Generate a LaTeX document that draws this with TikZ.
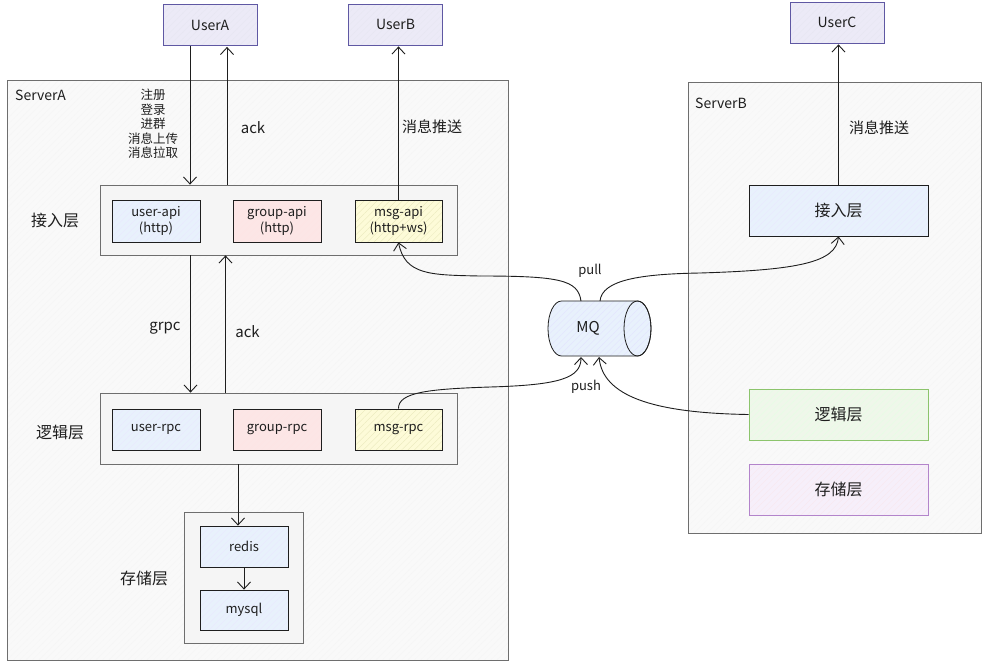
\documentclass[tikz,border=0pt]{standalone}
\usepackage{fontspec}
\setmainfont{Noto Sans CJK SC}
\usetikzlibrary{arrows.meta,patterns.meta}
\definecolor{ink}{HTML}{1E1E1E}
\definecolor{bordergray}{HTML}{6E6E6E}
\definecolor{userborder}{HTML}{5F58A3}
\definecolor{userfill}{HTML}{ECEAF7}
\definecolor{bluefill}{HTML}{E8F1FC}
\definecolor{pinkfill}{HTML}{FCE6E6}
\definecolor{yellowfill}{HTML}{FDFBD8}
\definecolor{greenborder}{HTML}{8CC46C}
\definecolor{greenfill}{HTML}{EFF7EA}
\definecolor{purpleborder}{HTML}{B384CB}
\definecolor{purplefill}{HTML}{F6EFFA}
\definecolor{serverfill}{HTML}{F9F9F9}
\definecolor{layerfill}{HTML}{F5F5F5}
\tikzset{
  shade/.style args={#1/#2/#3}{fill=#1,
    postaction={pattern={Lines[angle=45,distance=4.5pt,line width=0.35pt]},pattern color=#2},
    postaction={draw=#3}},
  box/.style={rectangle,line width=0.8pt,inner sep=0pt,text=ink},
  userbox/.style={box,shade=userfill/userborder!15/userborder,minimum width=94pt,minimum height=41pt,font=\fontsize{14}{16}\selectfont},
  server/.style={box,shade=serverfill/black!4/bordergray},
  layer/.style={box,shade=layerfill/black!4/bordergray},
  svc/.style={box,minimum width=88pt,minimum height=42pt,align=center,font=\fontsize{13}{16}\selectfont},
  bsvc/.style={shade=bluefill/blue!9/ink},
  psvc/.style={shade=pinkfill/red!10/ink},
  ysvc/.style={shade=yellowfill/olive!18/ink},
  blayer/.style={box,minimum width=179pt,minimum height=51pt,font=\fontsize{16}{18}\selectfont},
  arr/.style={draw=ink,line width=0.9pt,-{Straight Barb[length=7pt,width=13pt,line width=0.9pt]}},
  lbl/.style={text=ink,inner sep=0pt,font=\fontsize{15}{17}\selectfont},
  slbl/.style={text=ink,inner sep=0pt,font=\fontsize{13}{15}\selectfont},
}
\begin{document}
\begin{tikzpicture}[x=1pt,y=-1pt]
\useasboundingbox (0,0) rectangle (988,667);
\fill[white] (0,0) rectangle (988,667);

% servers
\node[server,minimum width=501pt,minimum height=580pt] (serverA) at (257.5,370) {};
\node[server,minimum width=293pt,minimum height=451pt] (serverB) at (834.5,307.5) {};
\node[slbl,anchor=west,font=\fontsize{14}{16}\selectfont] (serverAlbl) at (15,95) {ServerA};
\node[slbl,anchor=west,font=\fontsize{14}{16}\selectfont] (serverBlbl) at (695,103) {ServerB};

% users
\node[userbox] (userA) at (210,25) {UserA};
\node[userbox] (userB) at (395.5,24.5) {UserB};
\node[userbox] (userC) at (837,22.5) {UserC};

% access layer A
\node[layer,minimum width=357pt,minimum height=70pt] (accA) at (278.5,220) {};
\node[svc,bsvc] (userapi) at (156,221) {user-api\\(http)};
\node[svc,psvc] (groupapi) at (277,221) {group-api\\(http)};
\node[svc,ysvc,minimum width=87pt] (msgapi) at (398.5,221) {msg-api\\(http+ws)};
\node[lbl,font=\fontsize{16}{18}\selectfont] (accAlbl) at (55,220) {接入层};

% logic layer A
\node[layer,minimum width=357pt,minimum height=71pt] (logA) at (278.5,428.5) {};
\node[svc,bsvc,minimum height=41pt] (userrpc) at (156,429.5) {user-rpc};
\node[svc,psvc,minimum height=41pt] (grouprpc) at (277,429.5) {group-rpc};
\node[svc,ysvc,minimum width=87pt,minimum height=41pt] (msgrpc) at (398.5,429.5) {msg-rpc};
\node[lbl,font=\fontsize{16}{18}\selectfont] (logAlbl) at (60,432) {逻辑层};

% storage layer A
\node[layer,minimum width=119pt,minimum height=131pt] (storA) at (243.5,577.5) {};
\node[svc,bsvc,minimum height=41pt] (redis) at (244,546.5) {redis};
\node[svc,bsvc,minimum height=40pt] (mysql) at (244,610) {mysql};
\node[lbl,font=\fontsize{16}{18}\selectfont] (storAlbl) at (144,578) {存储层};

% Server B layers
\node[blayer,shade=bluefill/blue!9/ink] (accB) at (838.5,210.5) {接入层};
\node[blayer,shade=greenfill/green!10/greenborder] (logB) at (838.5,414.5) {逻辑层};
\node[blayer,shade=purplefill/purple!9/purpleborder] (storB) at (838.5,489.5) {存储层};

% MQ (horizontal cylinder)
\node[rectangle,minimum width=103pt,minimum height=55pt,inner sep=0pt] (mq) at (599.5,328.5) {};
\begin{scope}[shift={(mq.center)}]
  \path[line width=0.8pt,shade=bluefill/blue!11/ink]
    (-38,-27.5) -- (38,-27.5)
    .. controls (45.46,-27.5) and (51.5,-15.19) .. (51.5,0)
    .. controls (51.5,15.19) and (45.46,27.5) .. (38,27.5)
    -- (-38,27.5)
    .. controls (-45.46,27.5) and (-51.5,15.19) .. (-51.5,0)
    .. controls (-51.5,-15.19) and (-45.46,-27.5) .. (-38,-27.5) -- cycle;
  \draw[ink,line width=0.8pt] (38,0) ellipse [x radius=13.5, y radius=27.5];
\end{scope}
\node[text=ink,inner sep=0pt,font=\fontsize{15}{17}\selectfont] (mqlbl) at (588,328.5) {MQ};
\coordinate (mqtopL) at (581,301);
\coordinate (mqtopR) at (600,301);
\coordinate (mqbotL) at (581,357);
\coordinate (mqbotR) at (599,357);

% arrows user A
\draw[arr] ([xshift=-20pt]userA.south) -- ([xshift=-20pt]userA.south |- accA.north);
\draw[arr,shorten >=1pt] ([xshift=17pt]userA.south |- accA.north) -- ([xshift=17pt]userA.south);
\node[slbl,align=center,font=\fontsize{12.5}{14.5}\selectfont] (reqlbl) at (153,124) {注册\\登录\\进群\\消息上传\\消息拉取};
\node[lbl] (ack1) at (253,128) {ack};

% push to user B
\draw[arr,shorten >=1pt] (msgapi.north) -- (msgapi.north |- userB.south);
\node[lbl] (push1) at (432,127) {消息推送};

% access <-> logic
\draw[arr] ([xshift=-88pt]accA.south) -- ([xshift=-88pt]accA.south |- logA.north);
\draw[arr] ([xshift=-53pt]accA.south |- logA.north) -- ([xshift=-53pt]accA.south);
\node[lbl] (grpclbl) at (165,328) {grpc};
\node[lbl] (ack2) at (247.5,332) {ack};

% logic -> storage
\draw[arr] ([xshift=-6pt]redis.north |- logA.south) -- ([xshift=-6pt]redis.north);
\draw[arr] (redis.south) -- (mysql.north);

% server B push
\draw[arr,shorten >=1pt] (accB.north) -- (accB.north |- userC.south);
\node[lbl] (push2) at (879,128) {消息推送};

% pull curves
\draw[arr,-] (mqtopL) .. controls (578,280) and (560,276) .. (480,276);
\draw[arr] (480,276) .. controls (430,275) and (405,275) .. (msgapi.south);
\draw[arr,-] (mqtopR) .. controls (602,280) and (640,274) .. (700,273);
\draw[arr] (700,273) .. controls (800,270) and (836,262) .. (accB.south);
\node[slbl] (pulllbl) at (590,271) {pull};

% push curves
\draw[arr,-] (msgrpc.north) .. controls (398,392) and (430,389) .. (490,387);
\draw[arr] (490,387) .. controls (560,385) and (581,378) .. (mqbotL);
\draw[arr] (logB.west) .. controls (650,413) and (603,395) .. (mqbotR);
\node[slbl] (pushlbl) at (586,387) {push};
\end{tikzpicture}
\end{document}
